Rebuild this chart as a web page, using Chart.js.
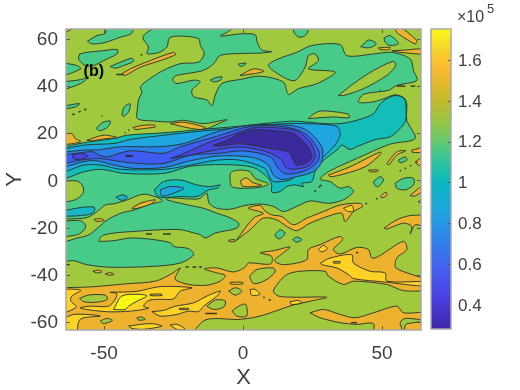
<!DOCTYPE html>
<html>
<head>
<meta charset="utf-8">
<script src="https://cdn.jsdelivr.net/npm/chart.js@4/dist/chart.umd.min.js"></script>
<style>
  html, body { margin: 0; padding: 0; background: #fff; }
  #wrap { position: relative; width: 520px; height: 390px; overflow: hidden; }
  canvas { position: absolute; left: 0; top: 0; }
</style>
</head>
<body>
<div id="wrap">
  <canvas id="field" width="520" height="390"></canvas>
  <canvas id="bar" width="520" height="390"></canvas>
</div>
<script>
// axis ticks
const xTicks = [-50, 0, 50];
const yTicks = [-60, -40, -20, 0, 20, 40, 60];
const barTicks = [0.4, 0.6, 0.8, 1, 1.2, 1.4, 1.6];

// contour outlines in (X, Y), one list per filled level
const base = [[-70, -70], [70, -70], [70, 70], [-70, 70]];

const greenMain = [[
  [-30,66],[-35.2,62.2],[-36,60.1],[-34,56.6],[-34.6,53.8],[-30.4,54.2],[-27.4,56.6],[-26.5,60.4],[-22.6,61.2],[-16,60.1],
  [-15.4,57.3],[-14,53.8],[-16,50.2],[-22.6,49.5],[-28.6,46.7],[-33.4,43.2],[-37,39.7],[-36.4,37.6],[-37.6,34.1],[-38,30.5],
  [-38,26.2],[-32.2,25.2],[-26.2,24.8],[-21.4,25.5],[-14.2,24.1],[-5.8,25.8],[-9.4,23.8],[-13,22],[-40,16],[-66,10],
  [-66,-34],[-61,-34],[-56.2,-35.7],[-47.8,-36.8],[-32.2,-36.4],[-22.6,-35],[-17.8,-31.5],[-19.6,-28.9],[-25,-28],
  [-26,-26.5],[-32,-25.1],[-40.4,-24.4],[-46.4,-25.5],[-51.8,-25.8],[-51.8,-25.1],[-50.6,-23.4],[-46.4,-22.3],[-39.2,-21.6],
  [-29.6,-20.9],[-22.4,-20.9],[-17.6,-22.3],[-15.4,-23],[-13.6,-24.4],[-10,-22.3],[-2.2,-20.2],[-1.6,-18.1],[-5.8,-15.3],
  [-9.4,-13.9],[-14.2,-11.8],[-19,-10.6],[-27.4,-8.2],[-27.4,-7.3],[-20.2,-7.8],[-16,-7.8],[-14.2,-6.4],[-13,-5.4],[-12.2,-9.7],
  [-9.4,-11.8],[-4.6,-12.2],[0.7,-10.6],[6.1,-10],[10.9,-11],[14.5,-13.2],[19.3,-11],[24.1,-8.7],[30.7,-9.7],[36.1,-8.2],
  [39.7,-4.7],[37.9,-2.6],[34.9,-3.3],[31.3,-0.5],[27.7,0.6],[31.3,4.1],[40.9,9.3],[52.9,15.4],[61.9,17.8],[58.9,25.5],
  [58.9,32.5],[57.9,35],[54.7,36.3],[50.5,34.6],[46.3,33.2],[41.5,33.2],[43.3,36.5],[52.3,38.2],[55.3,40.3],[62.5,42.4],
  [61.3,46.6],[60.1,51.5],[53.5,54.3],[46.9,53.6],[37.3,52.9],[34.9,57.6],[24.7,57.2],[19.3,54.3],[12.7,51.5],[9.1,48.7],
  [14.5,43.8],[18.7,42.4],[22.3,48],[23.5,52.9],[25.9,53.6],[27.1,50.8],[23.5,47.3],[33.1,45.9],[26.5,41],[19.9,38.9],
  [16.3,36.5],[14.5,41.7],[6.1,44.2],[-1,42.8],[-7.6,41.1],[-10,36.2],[-11.2,31.7],[-13,34.1],[-17.8,35.5],[-18.4,38.3],
  [-15.4,41.8],[-17.8,42.5],[-23.8,41.1],[-25.3,42.5],[-24.4,44.3],[-20.2,45.3],[-14.2,46.7],[-10.6,49.5],[-8.2,53],[-1,53.8],
  [6.1,54],[10.3,54.6],[6.7,55.3],[5.1,58.6],[4.3,61.8],[-1.1,62.1],[-8.2,61.2],[-5.2,63.2],[-2.8,65.7]
]];

const oliveIslands = [
  [[-66,-0.5],[-59.8,-0.2],[-57.6,-2.6],[-57.6,-5.4],[-60.4,-8.2],[-66,-8.7]],
  [[-66,-16.4],[-57.2,-16],[-54.2,-14.6],[-51.8,-12.5],[-49.4,-10.3],[-46.4,-9.9],[-41.6,-8.2],[-35.6,-5.8],[-29,-8.5],[-34.4,-10.4],
   [-39.2,-12.5],[-44,-13.9],[-48.8,-16.7],[-52.4,-20.2],[-55.4,-23],[-59.6,-24.4],[-66,-25.8]],
  [[-4.7,2.3],[-4.1,3.7],[-1.1,4.4],[2.5,3.7],[4.3,0.9],[9.1,-1.5],[6.1,-2.9],[-1.1,-3.3],[-4.1,-2.6],[-4.7,0.2]],
  [[23.5,26.2],[24.7,27.6],[27.7,29.4],[33.7,29],[37.9,28],[38.2,26.6],[32.5,26.9],[27.7,26.6]],
  [[34.3,36],[39.7,41],[46.9,46.6],[54.1,50.5],[54.9,48.7],[51.7,44.5],[43.3,38.9],[36.1,36]]
];

const greenIslands = [
  [[-66,-17.4],[-58.4,-17.1],[-56.6,-19.5],[-58.4,-22.3],[-60.8,-23.3],[-66,-23.4]],
  [[17.5,66],[18.7,62],[20.5,60.7],[22.9,62],[23.2,66]],
  [[42.3,56.7],[45.1,59.5],[47.5,58.6],[47.8,57.6],[45.1,56.2]],
  [[50.7,60.4],[52.9,61.4],[55.9,58.1],[52.9,57.2],[51.1,58.6]],
  [[-11.8,42.5],[-10,43.5],[-7.6,43.9],[-8.2,42.5],[-10.6,41.8]],
  [[-1.7,49.4],[1.1,49.7],[0.1,48.7],[-1,48.3]],
  [[-56,59],[-52.6,61.4],[-49.6,62.4],[-49,66],[-40,66],[-40,62.4],[-44.2,60.7],[-50.2,58.3],[-54.4,57.9]],
  [[-58.8,53.6],[-56.2,54.3],[-50.2,55],[-45.2,55.5],[-45.4,53.6],[-49,51.5],[-53.8,48.7],[-56.8,48.7],[-59.2,51.5]],
  [[-66,50.1],[-59.8,48.7],[-58.4,47.3],[-66,44.5]],
  [[-66,41.7],[-58.6,42.7],[-55.6,43.8],[-58.6,41],[-66,38.4]],
  [[-47.8,48.3],[-44.2,50.1],[-40,51.8],[-39.4,50.5],[-43,48.7],[-46,47.6]],
  [[-66,31.1],[-61,32.3],[-58.8,32.5],[-60.4,31.1],[-66,30.3]],
  [[-43.6,27.6],[-42.8,31.1],[-40.6,32.5],[-41.2,29],[-43,27.2]],
  [[-52.8,22],[-50.8,24.4],[-47.8,25.2],[-48.4,23],[-51.4,21]],
  [[55.9,8.6],[58.3,10],[58.9,8.6],[56.5,7.5]],
  [[46.9,-0.5],[49.3,1.6],[50.5,0.2],[48.7,-2.6],[47.5,-2.2]],
  [[54.7,-1.2],[57.7,0.9],[61.3,0.9],[61.3,-1.9],[58.3,-4],[55.3,-3.3]],
  [[11.5,-23],[13.3,-20.9],[15.1,-22.3],[13.3,-24.7],[11.9,-24.1]],
  [[17.8,-25.1],[19.3,-24],[21.1,-25.1],[19.3,-26.2]],
  [[63,-9],[66,-7.3],[66,-10.6]]
];

const tealBlobs = [
  [[-66,-13.2],[-58.4,-11.5],[-53.6,-11.3],[-53.6,-13.2],[-56,-14.6],[-66,-15]],
  [[-45.8,-7.1],[-43.4,-6.1],[-41.6,-7.1],[-43.4,-8.5]]
];

const tealJet = [
  [[-66,13.8],[-57.2,16],[-46.4,17.8],[-41.6,19.2],[-28.4,20.2],[-15.2,21.6],[-1.1,23],[7.3,24.1],[16.9,25.1],[22.9,24.8],
   [28.9,24.1],[34.9,24.1],[40.9,25.5],[46.9,28.3],[49.3,32.5],[51.7,34.6],[54.7,36],[57.7,35],[58.5,32.5],[58.5,25.5],
   [56.5,22],[52.9,18.5],[47.5,17.3],[40.9,14.3],[38.5,13.1],[35.5,15],[34.3,13.5],[27.7,7.2],[25.9,3.7],[24.7,-0.5],
   [21.1,-1.2],[21.7,-2.6],[18.7,-1.9],[15.7,-2.6],[13.3,-4.7],[10.3,-5],[10.3,-1.9],[9.1,0.9],[3.7,5.5],[-7,6.7],
   [-19,6],[-28.4,3],[-42.8,3],[-51.2,4.7],[-57.2,3.7],[-66,0.9]],
  [[-31.9,-4],[-28.6,-0.5],[-22.6,0.2],[-16.6,-1.9],[-11.8,-2.6],[-8.2,-1.9],[-9.4,-3.3],[-12.4,-4],[-16.6,-6.8],[-22.6,-6.8],
   [-28.6,-7.3],[-31,-6.4]]
];

const skyJet = [
  [[-66,12.9],[-57.2,15],[-46.4,15.7],[-40.4,17.4],[-28.4,19.2],[-15.2,20.9],[-1.1,22.4],[6.1,23.4],[16.9,24.1],[28.9,23.8],
   [34,22.7],[34.9,19.2],[33.1,15],[30.7,12.1],[27.1,7.9],[22.9,4.4],[19.3,2.3],[16.9,0.2],[10.9,-0.5],[9.1,2.3],
   [7.9,5.1],[-1.1,8.6],[-9.5,8.6],[-19.1,6.5],[-28.4,4.7],[-44,4.7],[-51.2,6.5],[-57.2,6.5],[-66,3.7]],
  [[-29.8,-4],[-26.2,-2.6],[-21.2,-3.3],[-25,-5.4],[-29.2,-6.6]]
];

const blueJet = [
  [[-66,11.7],[-57.2,12.9],[-52.4,12.9],[-44,14.3],[-30.8,14.3],[-21.2,15.7],[-9.5,20.6],[2.5,23.4],[16.9,23.3],[22.9,21.3],
   [28.3,14.2],[28.3,7.9],[25.3,3.7],[19.3,1.6],[13.9,0.4],[10.9,2.3],[9.1,6.5],[4.9,9.3],[-1.1,10.3],[-9.5,10.3],
   [-19.1,8.3],[-28.4,5.5],[-39.2,5.1],[-46.4,6.5],[-53,8.4],[-57.2,8],[-66,5.8]]
];

const violetJet = [
  [[-66,10.8],[-59.6,11.5],[-54.2,12.2],[-51.8,10.8],[-48.8,10],[-44.6,11.5],[-40.4,12.6],[-35.6,12.2],[-28.4,11.5],[-22.4,14.3],
   [-9.5,18.7],[2.5,22.9],[14.5,22.8],[22.3,19.9],[27.1,12.8],[27.1,8.6],[22.9,4.4],[15.7,2.7],[12.7,5.1],[9.7,10],
   [0.1,12.5],[-9.5,11.4],[-19.1,10.7],[-28.4,7.2],[-38,7.2],[-44,8],[-48.8,8.9],[-52.4,9.3],[-58.4,8.6],[-66,7.2]]
];

const indigoJet = [
  [[-26,9.3],[-21.2,11.5],[-11.9,16.3],[-3.5,19.6],[3.7,22.3],[12.1,22.3],[19.3,21],[24.1,16.3],[25.9,10.7],[24.1,6.5],
   [18.1,4.7],[15.1,5.8],[13.9,8.6],[8.5,12.1],[-1.1,14.2],[-11.9,12.5],[-19.1,10.7]],
  [[-61.4,10.8],[-58.4,11.5],[-55.8,10.3],[-58.4,8.9],[-61,9.3]]
];

const coreJet = [
  [[-10.7,14.9],[-5.9,17],[-1.1,19.9],[3.7,21.4],[12.1,21],[18.1,19.9],[22.9,14.9],[24.7,10.7],[23.5,7.9],[19.3,6.5],
   [18.1,8.6],[16.3,12.1],[9.7,13.5],[-1.1,15.6],[-8.3,14.5]],
  [[-42.2,10.6],[-39.8,10.6],[-39.8,10.2],[-42.2,10.2]]
];

const orangeMain = [
  [[-66,-45.5],[-54.4,-45.1],[-41.8,-43.8],[-31.6,-42.7],[-25.6,-39.5],[-22.6,-37.1],[-23.8,-39.6],[-24.4,-42],[-19.6,-44.1],[-13,-44.4],
   [-8.2,-42.7],[-6.4,-40.3],[-9.4,-39.2],[-14,-37.5],[-9.4,-37.1],[-3.4,-38.8],[0.7,-36.8],[1.9,-35],[9.9,-35.4],[10.3,-32.2],
   [6.1,-30.7],[10.9,-29.8],[16.9,-28.2],[13.9,-31.2],[11.3,-34],[14.5,-35.7],[22.9,-33.6],[23.5,-29.3],[27.7,-27.2],[34.9,-23.7],
   [35.8,-25.1],[32.5,-29.3],[34.9,-31.2],[40.9,-28.4],[45.1,-29.3],[46.3,-32.9],[48.7,-32.2],[57.7,-25.8],[58.9,-29.3],[55.3,-32.9],
   [55,-37.1],[66,-42.4],[66,-46.2],[57.7,-46.7],[51.7,-44.1],[39.7,-42.7],[36.1,-44.1],[30.7,-40.6],[29.5,-38.5],[20.5,-38.5],
   [15.7,-39.9],[12.7,-43.4],[10.9,-46.9],[12.7,-49],[19.3,-49.5],[30.1,-49.5],[24.1,-51.2],[18.1,-52.8],[13.3,-54.7],[6.1,-57.5],
   [-1.1,-58.9],[-13,-58.9],[-17.3,-63.4],[-17.3,-66],[-66,-66]]
];

const orangeBranches = [
  [[-2.5,-25.5],[3.7,-16],[7.3,-13.9],[1.9,-11.8],[6.1,-10.6],[7.9,-12.9],[10.3,-14.6],[13.9,-15.3],[18.1,-18.8],[22.9,-16],
   [28.9,-13.2],[34.9,-10.4],[42.1,-9.7],[43,-11],[39.7,-13.2],[36.7,-17.4],[35.5,-13.9],[31.3,-14.9],[24.1,-18.1],[19.3,-21.3],
   [15.7,-19.5],[12.1,-16.7],[7.3,-16],[2.5,-20.9]],
  [[50.7,-20.2],[55.3,-16.7],[60.1,-14.9],[66,-15.3],[66,-19.5],[61.9,-18.8],[60.1,-22.7],[60.7,-19.5],[57.7,-18.1],[51.7,-20.6]],
  [[24.1,-56.1],[28.9,-54.7],[34.9,-56.8],[40.3,-58.2],[46.9,-56.1],[55.3,-53.3],[57.7,-56.1],[66,-56.1],[66,-58.9],[58.3,-58.5],
   [56.5,-60.3],[57.7,-66],[47.2,-66],[46.9,-60.7],[40.9,-61],[34.9,-60.3],[27.7,-58.2]],
  [[58.3,-61.3],[58.9,-60.7],[66,-60.3],[66,-66],[58,-66]],
  [[49.3,-6.8],[51.4,-5],[51.7,-6.4],[49.9,-7.3]],
  [[60,-6.5],[63,-3.5],[66,-1],[66,-3],[62,-6.5]]
];

const orangeSlivers = [
  [[-43.6,45.2],[-40.6,47.3],[-33.4,50.8],[-25,54.3],[-24.2,53.4],[-29.8,50.8],[-37,48],[-42.4,44.5]],
  [[-66,61.5],[-60.5,65],[-62.5,65],[-66,63]],
  [[-39.6,22.4],[-36.4,23.3],[-32,23.5],[-31.6,22.7],[-35.8,22],[-38.8,21.6]],
  [[-26.2,24.1],[-21.4,24.7],[-13.6,22.4],[-15.4,21.6],[-20.2,22.4]],
  [[-66,19.2],[-61.6,19.9],[-60.4,17.8],[-58.4,16.4],[-66,15.4]],
  [[-56.2,17],[-52.6,18.5],[-49.6,19.2],[-45.4,18.2],[-50.2,17.6],[-54.4,16.8]],
  [[-1.1,44.5],[3.7,47.3],[7.5,46.3],[3.7,45.2]],
  [[54,66],[55.3,62.8],[57.7,60.7],[61.9,57.9],[62.5,59.3],[55.5,66]],
  [[48.7,56.2],[52.9,56.4],[52.6,55.5],[49.3,55.5]],
  [[53.5,55],[58.9,55.3],[63.7,55.7],[66,53.6],[56.5,54.3]],
  [[60.7,12.8],[66,14.3],[66,12.1],[60.7,12]],
  [[30.7,2.3],[38.5,5.8],[49.3,12.1],[49.5,11.2],[43.9,5.8],[34.9,2.3],[31.3,1.6]],
  [[51.7,7.2],[55.3,12.1],[58.5,12.6],[55.3,10.7],[52.3,6.5]],
  [[45.1,4.4],[48.7,4.4],[48.1,3.7],[45.7,3.7]],
  [[61.9,7.9],[66,10.7],[66,7.2],[63,6.5]],
  [[-1,-0.2],[1.2,1.1],[3.3,-0.8],[6.6,-2.1],[0,-2.5]],
  [[-53.6,-16.5],[-51,-16.2],[-50,-17],[-53,-17.3]],
  [[-40,-11.8],[-37,-9.7],[-31.6,-8.2],[-33.4,-10.1],[-38.8,-12]],
  [[-5.2,-25.3],[-3,-25.1],[-2.8,-25.8],[-5,-25.9]],
  [[-54,-38.5],[-52,-38],[-50.8,-38.7],[-52.5,-39.2]],
  [[-49.6,-39.6],[-48,-39.1],[-46.4,-39.8],[-48,-40.2]]
];

const goldPatches = [
  [[27.9,-35],[31.3,-32.9],[39.1,-31.5],[39.7,-35],[45.7,-38.5],[51.1,-39.2],[51.7,-42.7],[66,-43],[66,-44.8],[50.5,-43],
   [39.7,-41.6],[37.9,-39.9],[33.7,-37.1],[28.3,-35.7]],
  [[-66,-46],[-58.4,-46.5],[-61.6,-49],[-62,-51],[-60,-53.7],[-66,-56]],
  [[-47.8,-47.4],[-38.2,-47],[-29.8,-45],[-18.4,-45.5],[-22.6,-46.9],[-25,-50.2],[-30.4,-50.4],[-34,-50.9],[-35.8,-53.3],[-34,-54.2],
   [-40.6,-55.4],[-47.8,-55.7],[-53.8,-55.1],[-58.6,-54],[-55,-53.3],[-48.4,-53.3],[-46,-50.4],[-45.4,-48]],
  [[-32.8,-55.6],[-28.6,-55.1],[-24.4,-53.3],[-17.8,-51.9],[-13,-49],[-8.2,-46.9],[-9.4,-49],[-14.2,-53.3],[-16,-55.6],[-19.6,-55.4],
   [-23.8,-56.8],[-29.8,-57.5]],
  [[-66,-59.6],[-61,-56.8],[-51.4,-57.5],[-58.6,-58.9],[-60.4,-66],[-66,-66]],
  [[-41.2,-61.7],[-33.4,-60.7],[-29.2,-61.7],[-35.8,-63.1],[-40,-62.7]],
  [[-26.2,-61.3],[-23.8,-61],[-20.8,-63.1],[-23.8,-63.1]],
  [[36.1,-11.8],[39.1,-10.6],[39.7,-12.9],[37.9,-13.2]],
  [[2.5,-46.2],[4.3,-46.2],[6.1,-48.3],[3.1,-48.6]],
  [[16.9,-51.4],[19.9,-50.9],[21.1,-51.9],[17.5,-52.6]],
  [[27.1,-29.3],[28.9,-27.5],[30.3,-28.9],[28.3,-30.3]],
  [[-4.6,-43.2],[-0.1,-43.2],[-0.1,-43.9],[-4.6,-43.9]]
];

const yellowPatches = [
  [[-46.6,-54.7],[-43.6,-49],[-37,-48.3],[-34.6,-49],[-38.2,-51.2],[-41.2,-53.3],[-42.4,-54.7]]
];

const orangeInGold = [
  [[-33.4,-48.2],[-29.2,-48.2],[-29.2,-48.8],[-33.4,-48.8]],
  [[-22.9,-54.2],[-19.6,-54.2],[-19.6,-54.7],[-22.9,-54.7]],
  [[32.5,-34.4],[34.9,-34.4],[34.9,-35],[32.5,-35]]
];

const oliveOvals = [
  [[2.3,-40.6],[4.9,-37.8],[10.9,-37.1],[11.5,-38.8],[7.9,-42.4],[3.7,-43.7]],
  [[-58.8,-50],[-55.6,-48.6],[-49.6,-48.6],[-48.8,-50.4],[-52.6,-51.6],[-57.4,-51.4]],
  [[-13,-53.3],[-10,-50.7],[-6.4,-51.1],[-7,-53.7],[-10.6,-54.7]],
  [[-5.2,-46.9],[-2.8,-45.5],[-0.4,-46.9],[-2.8,-48.6]],
  [[-4,-55.4],[-1.6,-53.3],[0.9,-52.5],[1.3,-57.5],[-2.2,-57.5]],
  [[-51.4,-59.6],[-49,-58.5],[-47,-59.3],[-50.2,-60.7]],
  [[-38.2,-58.2],[-36.4,-57.9],[-35.2,-58.9],[-37.6,-59.2]]
];

// tiny closed contours, too small to show a fill
const dashes = [
  [[-45.6,44.9],[-43,44.9]], [[-61.5,28],[-60.5,28]], [[-59.2,29],[-58.4,29.2]], [[-57.2,30],[-56.4,30.2]], [[-50.9,27.2],[-50.6,27.2]],
  [[-36.9,53.2],[-36.2,53.3]], [[-41.4,21.3],[-41,21.4]], [[-42.6,20.2],[-42.2,20.3]], [[55.3,40],[58.3,40]], [[60.3,40],[61.9,40]],
  [[49.2,38.2],[49.5,38.2]], [[56.3,4.1],[56.8,4.1]], [[58.1,5.1],[58.6,5.2]], [[60.1,6.2],[60.6,6.3]], [[62.3,7.6],[62.8,7.7]],
  [[-35,-22.7],[-32.8,-22.7]], [[-28.8,-22.7],[-26,-22.7]], [[-41,-23.4],[-40.7,-23.4]], [[-63.6,-35.7],[-62.4,-35.7]],
  [[-20.7,-36.7],[-19.6,-36.6]], [[-18.2,-36.7],[-16.8,-36.7]], [[-15.8,-36.7],[-14.8,-36.7]],
  [[-13.6,-56.4],[-9.4,-56.4]], [[7.2,-49.5],[7.8,-49.6]], [[9.2,-50.6],[10,-50.7]], [[38.8,-60.3],[41,-60.3]], [[44,-9.9],[44.6,-9.7]],
  [[47.8,-7.9],[48.4,-7.6]], [[40.6,-30.6],[41.4,-30.6]], [[27.2,-3],[28.2,-1.8]], [[25.6,-4.8],[26.2,-4.2]]
];

// colorbar stops from bottom to top, with their place on the bar
const barStops = ["#3e26a8", "#4a3ee0", "#4660f0", "#2f84ea", "#1ea6dc", "#0ab9c0", "#3fc792", "#88c850", "#c5b92d", "#fbb92f", "#f6d82c", "#f8fa14"];
const barStopAt = [0, 0.1, 0.2, 0.3, 0.4, 0.49, 0.58, 0.67, 0.76, 0.87, 0.94, 1];

const layerColors = [
  [[base], "#a0c93d"],
  [greenMain, "#48cb88"],
  [oliveIslands, "#a0c93d"],
  [greenIslands, "#48cb88"],
  [tealBlobs, "#16b6c6"],
  [tealJet, "#13bdb8"],
  [skyJet, "#1fa6e0"],
  [blueJet, "#2c80ea"],
  [violetJet, "#3f5cf0"],
  [indigoJet, "#4a42dc"],
  [coreJet, "#3a2a9c"],
  [orangeMain, "#edb22e"],
  [orangeBranches, "#edb22e"],
  [orangeSlivers, "#edb22e"],
  [goldPatches, "#fdd225"],
  [yellowPatches, "#f8fa15"],
  [orangeInGold, "#edb22e"],
  [oliveOvals, "#a0c93d"]
];

const datasets = [];
layerColors.forEach(([contours, color]) => {
  contours.forEach((pts) => {
    const closed = pts.concat([pts[0]]);
    datasets.push({
      data: closed.map((p) => ({ x: p[0], y: p[1] })),
      showLine: true,
      fill: "shape",
      backgroundColor: color,
      borderColor: "#26302c",
      borderWidth: contours === layerColors[0][0] ? 0 : 0.9,
      tension: 0.3,
      pointRadius: 0
    });
  });
});
dashes.forEach((pts) => {
  datasets.push({
    data: pts.map((p) => ({ x: p[0], y: p[1] })),
    showLine: true,
    fill: false,
    borderColor: "#3a3a22",
    borderWidth: 1.5,
    pointRadius: 0
  });
});
// later layers go on top
datasets.forEach((d, i) => { d.order = datasets.length - i; });

const tickGray = "#404040";
const frameGray = "#a8a8a8";

const framePlugin = {
  id: "frame",
  afterDatasetsDraw(chart) {
    const { ctx, chartArea: a, scales } = chart;
    ctx.save();
    ctx.strokeStyle = "#555";
    ctx.lineWidth = 1;
    ctx.beginPath();
    xTicks.forEach((v) => {
      const px = Math.round(scales.x.getPixelForValue(v)) + 0.5;
      ctx.moveTo(px, a.bottom); ctx.lineTo(px, a.bottom - 4);
      ctx.moveTo(px, a.top); ctx.lineTo(px, a.top + 4);
    });
    yTicks.forEach((v) => {
      const py = Math.round(scales.y.getPixelForValue(v)) + 0.5;
      ctx.moveTo(a.left, py); ctx.lineTo(a.left + 4, py);
      ctx.moveTo(a.right, py); ctx.lineTo(a.right - 4, py);
    });
    ctx.stroke();
    ctx.strokeStyle = frameGray;
    ctx.lineWidth = 1.5;
    ctx.strokeRect(a.left, a.top, a.right - a.left, a.bottom - a.top);
    // panel tag sits at a data position
    ctx.fillStyle = "#000";
    ctx.font = "bold 16px 'Liberation Sans'";
    ctx.textAlign = "center";
    ctx.textBaseline = "middle";
    ctx.fillText("(b)", scales.x.getPixelForValue(-53.7), scales.y.getPixelForValue(46.2));
    ctx.restore();
  }
};

new Chart(document.getElementById("field"), {
  type: "scatter",
  data: { datasets },
  plugins: [framePlugin],
  options: {
    responsive: false,
    animation: false,
    events: [],
    layout: { padding: { left: 0, top: 29, right: 99, bottom: 0 } },
    plugins: { legend: { display: false }, tooltip: { enabled: false } },
    scales: {
      x: {
        type: "linear",
        min: -63.7,
        max: 64,
        grid: { display: false, drawTicks: false },
        border: { display: false },
        afterBuildTicks: (axis) => { axis.ticks = xTicks.map((v) => ({ value: v })); },
        afterFit: (axis) => { axis.height = 60; },
        ticks: { color: tickGray, font: { family: "'Liberation Sans'", size: 19 }, padding: 12, maxRotation: 0, autoSkip: false, callback: (v) => String(v) },
        title: { display: true, text: "X", color: tickGray, font: { family: "'Liberation Sans'", size: 22 }, padding: { top: 0, bottom: -1 } }
      },
      y: {
        type: "linear",
        min: -63.4,
        max: 64.2,
        grid: { display: false, drawTicks: false },
        border: { display: false },
        afterBuildTicks: (axis) => { axis.ticks = yTicks.map((v) => ({ value: v })); },
        afterFit: (axis) => { axis.width = 66; },
        ticks: { color: tickGray, font: { family: "'Liberation Sans'", size: 19 }, padding: 8, labelOffset: 1, autoSkip: false, callback: (v) => String(v) },
        title: { display: true, text: "Y", color: tickGray, font: { family: "'Liberation Sans'", size: 22 }, padding: { top: 2, bottom: 0 } }
      }
    }
  }
});

const barPlugin = {
  id: "barFrame",
  afterDatasetsDraw(chart) {
    const { ctx, chartArea: a, scales } = chart;
    ctx.save();
    ctx.strokeStyle = "#555";
    ctx.lineWidth = 1;
    ctx.beginPath();
    barTicks.forEach((v) => {
      const py = Math.round(scales.y.getPixelForValue(v)) + 0.5;
      ctx.moveTo(a.right, py); ctx.lineTo(a.right - 3, py);
    });
    ctx.stroke();
    ctx.strokeStyle = frameGray;
    ctx.lineWidth = 1.5;
    ctx.strokeRect(a.left, a.top, a.right - a.left, a.bottom - a.top);
    // exponent label above the bar
    ctx.fillStyle = tickGray;
    ctx.textBaseline = "alphabetic";
    ctx.textAlign = "left";
    ctx.font = "16px 'Liberation Sans'";
    ctx.fillText("×10", 457, 22);
    ctx.font = "13px 'Liberation Sans'";
    ctx.fillText("5", 487, 13);
    ctx.restore();
  }
};

new Chart(document.getElementById("bar"), {
  type: "bar",
  data: {
    labels: ["level"],
    datasets: [{
      data: [[0.282, 1.752]],
      barPercentage: 1,
      categoryPercentage: 1,
      backgroundColor(ctx) {
        const a = ctx.chart.chartArea;
        if (!a) return barStops[0];
        const g = ctx.chart.ctx.createLinearGradient(0, a.bottom, 0, a.top);
        barStops.forEach((c, i) => g.addColorStop(barStopAt[i], c));
        return g;
      }
    }]
  },
  plugins: [barPlugin],
  options: {
    responsive: false,
    animation: false,
    events: [],
    layout: { padding: { left: 431, top: 29, right: 0, bottom: 61 } },
    plugins: { legend: { display: false }, tooltip: { enabled: false } },
    scales: {
      x: { display: false },
      y: {
        position: "right",
        min: 0.282,
        max: 1.752,
        grid: { display: false, drawTicks: false },
        border: { display: false },
        afterBuildTicks: (axis) => { axis.ticks = barTicks.map((v) => ({ value: v })); },
        afterFit: (axis) => { axis.width = 69; },
        ticks: { color: tickGray, font: { family: "'Liberation Sans'", size: 17 }, padding: 7, labelOffset: 1, autoSkip: false, callback: (v) => String(v) }
      }
    }
  }
});
</script>
</body>
</html>
